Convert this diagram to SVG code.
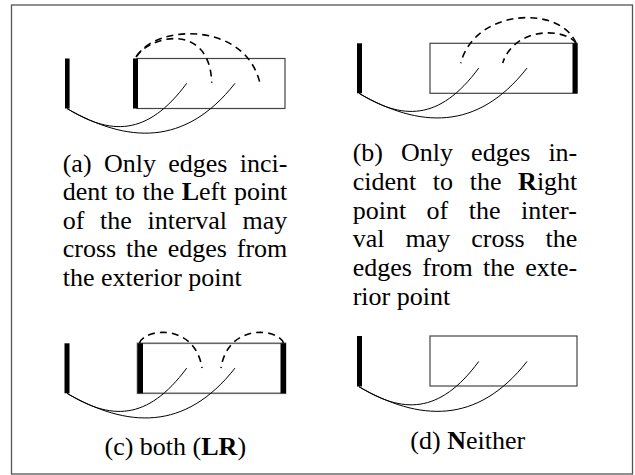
<svg xmlns="http://www.w3.org/2000/svg" width="635" height="475" viewBox="0 0 635 475">
<style>
  .frame{fill:#fff;stroke:#555;stroke-width:1.3}
  .bar{fill:#000}
  .box{fill:none;stroke:#444;stroke-width:1.2}
  .arc{fill:none;stroke:#000;stroke-width:1}
  .dash{fill:none;stroke:#000;stroke-width:1.6;stroke-dasharray:7 5}
  text{font-family:"Liberation Serif","Times New Roman",serif;font-size:26px;fill:#000}
  .b{font-weight:bold}
</style>
<defs>
  <g id="solidArcs">
    <path class="arc" d="M67,108.5 C110,135 147,137 186.7,83.3"/>
    <path class="arc" d="M67,108.5 C127,143 185,147 235,83.3"/>
  </g>
</defs>
<rect class="frame" x="11.5" y="5" width="621" height="469"/>

<g id="panel-a">
  <rect class="box" x="137" y="58.5" width="148" height="50"/>
  <rect class="bar" x="65" y="58.5" width="4.6" height="50"/>
  <rect class="bar" x="133" y="58.5" width="5" height="50"/>
  <text><tspan x="62.7" y="171.5">(a)</tspan><tspan x="103.9" y="171.5">Only</tspan><tspan x="168.2" y="171.5">edges</tspan><tspan x="239.7" y="171.5">inci-</tspan></text>
  <text><tspan x="62.7" y="200.1">dent</tspan><tspan x="114.9" y="200.1">to</tspan><tspan x="142.5" y="200.1">the</tspan><tspan x="181.7" y="200.1"><tspan class="b">L</tspan>eft</tspan><tspan x="233.9" y="200.1">point</tspan></text>
  <text><tspan x="62.7" y="228.7">of</tspan><tspan x="100.0" y="228.7">the</tspan><tspan x="147.5" y="228.7">interval</tspan><tspan x="242.5" y="228.7">may</tspan></text>
  <text><tspan x="62.7" y="257.3">cross</tspan><tspan x="126.0" y="257.3">the</tspan><tspan x="167.7" y="257.3">edges</tspan><tspan x="236.8" y="257.3">from</tspan></text>
  <text x="62.7" y="285.9">the exterior point</text>
</g>

<g id="panel-b">
  <rect class="box" x="430" y="43.3" width="147" height="50"/>
  <rect class="bar" x="357" y="43.3" width="5" height="50"/>
  <rect class="bar" x="572.5" y="43.3" width="5" height="50"/>
  <text><tspan x="352.7" y="161">(b)</tspan><tspan x="401.1" y="161">Only</tspan><tspan x="471.1" y="161">edges</tspan><tspan x="548.4" y="161">in-</tspan></text>
  <text><tspan x="352.7" y="189.8">cident</tspan><tspan x="432.8" y="189.8">to</tspan><tspan x="469.7" y="189.8">the</tspan><tspan x="518.1" y="189.8"><tspan class="b">R</tspan>ight</tspan></text>
  <text><tspan x="352.7" y="218.6">point</tspan><tspan x="426.6" y="218.6">of</tspan><tspan x="468.8" y="218.6">the</tspan><tspan x="521.0" y="218.6">inter-</tspan></text>
  <text><tspan x="352.7" y="247.4">val</tspan><tspan x="405.4" y="247.4">may</tspan><tspan x="471.2" y="247.4">cross</tspan><tspan x="545.5" y="247.4">the</tspan></text>
  <text><tspan x="352.7" y="276.2">edges</tspan><tspan x="422.3" y="276.2">from</tspan><tspan x="483.1" y="276.2">the</tspan><tspan x="525.3" y="276.2">exte-</tspan></text>
  <text x="352.7" y="305">rior point</text>
</g>

<g id="panel-c">
  <rect class="box" x="137.5" y="343.3" width="148" height="50" style="stroke:#666;stroke-width:1.6"/>
  <rect class="bar" x="64.5" y="343.3" width="5" height="50"/>
  <rect class="bar" x="137.5" y="343.3" width="5.5" height="50"/>
  <rect class="bar" x="280.5" y="343.3" width="5.5" height="50"/>
  <text x="175.3" y="455" text-anchor="middle">(c) both (<tspan class="b">LR</tspan>)</text>
</g>

<g id="panel-d">
  <rect class="box" x="430" y="336" width="147" height="50"/>
  <rect class="bar" x="357" y="336" width="5" height="50.5"/>
  <text x="467.7" y="449" text-anchor="middle">(d) <tspan class="b">N</tspan>either</text>
</g>

<g id="connectors">
  <use href="#solidArcs"/>
  <path class="dash" d="M136,57 C150,35 210,22 211.7,82.7"/>
  <path class="dash" d="M137,56 C155,25 245,20 260,83.3"/>

  <use href="#solidArcs" transform="translate(292,-15.2)"/>
  <path class="dash" d="M576,43 C560,5 475,8 460.7,63.3"/>
  <path class="dash" d="M576,43 C565,28 515,26 502.7,63"/>

  <use href="#solidArcs" transform="translate(0,284.8)"/>
  <path class="dash" d="M139.5,343 C145,328 195,323 202,368"/>
  <path class="dash" d="M283.5,343 C278,328 228,323 221,368"/>

  <use href="#solidArcs" transform="translate(292,278.2)"/>
</g>
</svg>
